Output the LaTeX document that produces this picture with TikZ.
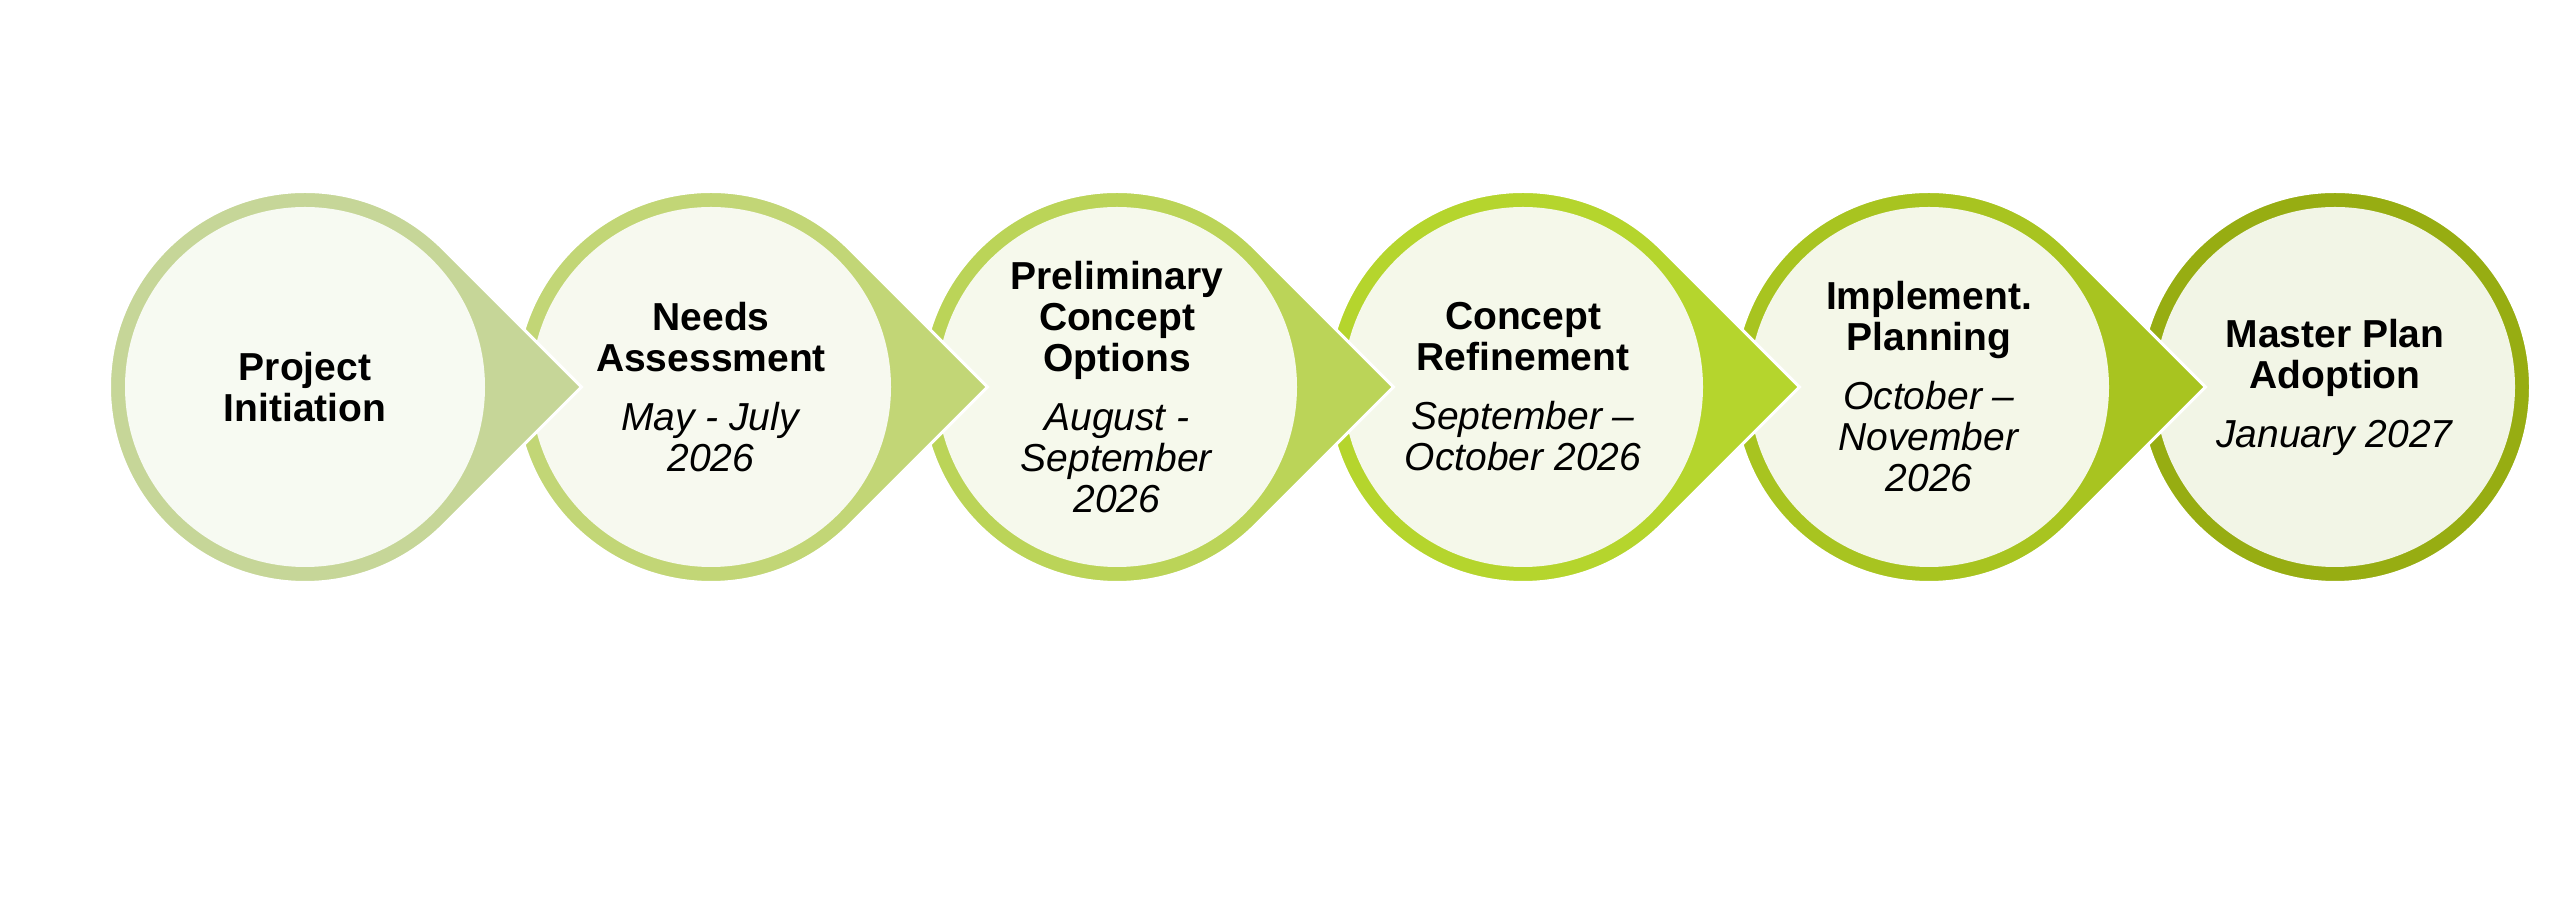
\documentclass[tikz,border=0pt]{standalone}
\usepackage{fontspec}
\setmainfont{Liberation Sans}
\usetikzlibrary{positioning}
\definecolor{ringA}{HTML}{C6D698}
\definecolor{ringB}{HTML}{C2D676}
\definecolor{ringC}{HTML}{BBD458}
\definecolor{ringD}{HTML}{B5D52D}
\definecolor{ringE}{HTML}{A8C420}
\definecolor{ringF}{HTML}{97AD12}
\definecolor{fillA}{HTML}{F7FAF2}
\definecolor{fillB}{HTML}{F7F9EF}
\definecolor{fillC}{HTML}{F6F9EC}
\definecolor{fillD}{HTML}{F5F8EA}
\definecolor{fillE}{HTML}{F4F7E8}
\definecolor{fillF}{HTML}{F2F5E6}
\tikzstyle{ring} = [draw=white, line width=3pt]
\tikzstyle{stage} = [circle, inner sep=0pt, minimum size=360pt, align=center, font=\fontsize{39}{41}\selectfont]

\begin{document}
\begin{tikzpicture}[x=1pt, y=1pt]
			\useasboundingbox [fill=white] (0,0) rectangle (2560,917);
			\coordinate (c1) at (305,530);
			\coordinate (c2) at (711,530);
			\coordinate (c3) at (1117,530);
			\coordinate (c4) at (1523,530);
			\coordinate (c5) at (1929,530);
			\coordinate (c6) at (2335,530);
			
			% drawn right to left, so each tip lies over the next circle
			\path [ring, fill=ringF] (c6) circle (195.5pt);
			\node [stage, fill=fillF] (adoption) at (c6) {\textbf{Master Plan}\\\textbf{Adoption}\\[18pt]\textit{January 2027}};
			
			\path [ring, fill=ringE] (c5) ++(45:195.5pt) arc [start angle=45, end angle=315, radius=195.5pt] -- ++(138.2,138.2) -- cycle;
			\node [stage, fill=fillE] (planning) at (c5) {\textbf{Implement.}\\\textbf{Planning}\\[18pt]\textit{October –}\\\textit{November}\\\textit{2026}};
			
			\path [ring, fill=ringD] (c4) ++(45:195.5pt) arc [start angle=45, end angle=315, radius=195.5pt] -- ++(138.2,138.2) -- cycle;
			\node [stage, fill=fillD] (refinement) at (c4) {\textbf{Concept}\\\textbf{Refinement}\\[18pt]\textit{September –}\\\textit{October 2026}};
			
			\path [ring, fill=ringC] (c3) ++(45:195.5pt) arc [start angle=45, end angle=315, radius=195.5pt] -- ++(138.2,138.2) -- cycle;
			\node [stage, fill=fillC] (options) at (c3) {\textbf{Preliminary}\\\textbf{Concept}\\\textbf{Options}\\[18pt]\textit{August -}\\\textit{September}\\\textit{2026}};
			
			\path [ring, fill=ringB] (c2) ++(45:195.5pt) arc [start angle=45, end angle=315, radius=195.5pt] -- ++(138.2,138.2) -- cycle;
			\node [stage, fill=fillB] (assessment) at (c2) {\textbf{Needs}\\\textbf{Assessment}\\[18pt]\textit{May - July}\\\textit{2026}};
			
			\path [ring, fill=ringA] (c1) ++(45:195.5pt) arc [start angle=45, end angle=315, radius=195.5pt] -- ++(138.2,138.2) -- cycle;
			\node [stage, fill=fillA] (initiation) at (c1) {\textbf{Project}\\\textbf{Initiation}};
		\end{tikzpicture}
\end{document}
